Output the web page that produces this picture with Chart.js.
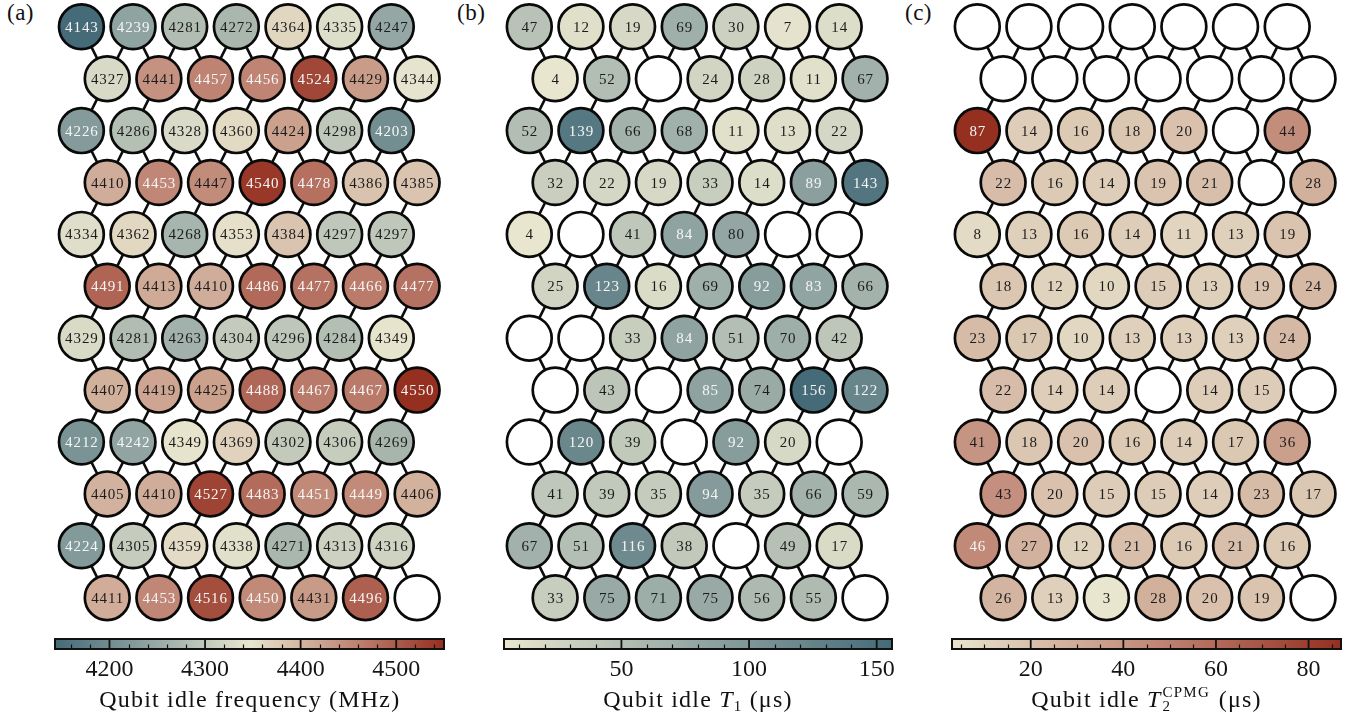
<!DOCTYPE html>
<html>
<head>
<meta charset="utf-8">
<script src="https://cdn.jsdelivr.net/npm/chart.js@4.4.0/dist/chart.umd.min.js"></script>
<style>
  body { margin: 0; background: #fff; width: 1361px; height: 723px; position: relative; overflow: hidden; }
  canvas { position: absolute; }
  .plabel { position: absolute; top: 1px; font: 23px "Liberation Serif", serif; line-height: 23px; color: #111; letter-spacing: 0.5px; }
  .ttl { position: absolute; top: 687px; transform: translateX(-50%); white-space: nowrap;
         font: 24px "Liberation Serif", serif; line-height: 24px; color: #111; letter-spacing: 1.2px; }
  .ttl sub { font-size: 15px; vertical-align: -4px; line-height: 0; }
  .stack { display: inline-block; position: relative; width: 50px; height: 10px; }
  .stack .sp { position: absolute; left: 1px; top: -12px; font-size: 15px; line-height: 15px; }
  .stack .sb { position: absolute; left: 1px; top: 2px; font-size: 15px; line-height: 15px; }
</style>
</head>
<body>
<div class="plabel" style="left:7px">(a)</div>
<div class="plabel" style="left:457px">(b)</div>
<div class="plabel" style="left:905px">(c)</div>

<canvas id="latA"></canvas><canvas id="latB"></canvas><canvas id="latC"></canvas>
<canvas id="cbA"></canvas><canvas id="cbB"></canvas><canvas id="cbC"></canvas>

<div class="ttl" style="left:249.8px">Qubit idle frequency (MHz)</div>
<div class="ttl" style="left:698px">Qubit idle <i>T</i><sub>1</sub> (μs)</div>
<div class="ttl" style="left:1146.5px">Qubit idle <i>T</i><span class="stack"><span class="sp">CPMG</span><span class="sb">2</span></span> (μs)</div>

<script>
// Datos: 12 filas x 7 columnas, las filas impares desplazadas media columna
const freqMHz = [
  [4143, 4239, 4281, 4272, 4364, 4335, 4247],
  [4327, 4441, 4457, 4456, 4524, 4429, 4344],
  [4226, 4286, 4328, 4360, 4424, 4298, 4203],
  [4410, 4453, 4447, 4540, 4478, 4386, 4385],
  [4334, 4362, 4268, 4353, 4384, 4297, 4297],
  [4491, 4413, 4410, 4486, 4477, 4466, 4477],
  [4329, 4281, 4263, 4304, 4296, 4284, 4349],
  [4407, 4419, 4425, 4488, 4467, 4467, 4550],
  [4212, 4242, 4349, 4369, 4302, 4306, 4269],
  [4405, 4410, 4527, 4483, 4451, 4449, 4406],
  [4224, 4305, 4359, 4338, 4271, 4313, 4316],
  [4411, 4453, 4516, 4450, 4431, 4496, null],
];

const t1Us = [
  [47, 12, 19, 69, 30, 7, 14],
  [4, 52, null, 24, 28, 11, 67],
  [52, 139, 66, 68, 11, 13, 22],
  [32, 22, 19, 33, 14, 89, 143],
  [4, null, 41, 84, 80, null, null],
  [25, 123, 16, 69, 92, 83, 66],
  [null, null, 33, 84, 51, 70, 42],
  [null, 43, null, 85, 74, 156, 122],
  [null, 120, 39, null, 92, 20, null],
  [41, 39, 35, 94, 35, 66, 59],
  [67, 51, 116, 38, null, 49, 17],
  [33, 75, 71, 75, 56, 55, null],
];

const t2CpmgUs = [
  [null, null, null, null, null, null, null],
  [null, null, null, null, null, null, null],
  [87, 14, 16, 18, 20, null, 44],
  [22, 16, 14, 19, 21, null, 28],
  [8, 13, 16, 14, 11, 13, 19],
  [18, 12, 10, 15, 13, 19, 24],
  [23, 17, 10, 13, 13, 13, 24],
  [22, 14, 14, null, 14, 15, null],
  [41, 18, 20, 16, 14, 17, 36],
  [43, 20, 15, 15, 14, 23, 17],
  [46, 27, 12, 21, 16, 21, 16],
  [26, 13, 3, 28, 20, 19, null],
];

// Ticks de las barras de color
const freqMajorTicks = [4200, 4300, 4400, 4500];
const freqMinorTicks = [4160, 4180, 4220, 4240, 4260, 4280, 4320, 4340, 4360, 4380, 4420, 4440, 4460, 4480, 4520, 4540];
const t1MajorTicks = [50, 100, 150];
const t1MinorTicks = [10, 20, 30, 40, 60, 70, 80, 90, 110, 120, 130, 140];
const t2MajorTicks = [20, 40, 60, 80];
const t2MinorTicks = [5, 10, 15, 25, 30, 35, 45, 50, 55, 65, 70, 75, 85];

// Mapa de colores divergente (azul grisáceo - crema - rojo)
const cmapStops = [
  [0.0, [69, 107, 120]],
  [0.25, [147, 166, 163]],
  [0.5, [232, 230, 207]],
  [0.75, [194, 139, 122]],
  [1.0, [149, 47, 32]],
];

function cmap(t) {
  t = Math.max(0, Math.min(1, t));
  for (let i = 1; i < cmapStops.length; i++) {
    const [t0, c0] = cmapStops[i - 1];
    const [t1, c1] = cmapStops[i];
    if (t <= t1) {
      const f = (t - t0) / (t1 - t0);
      const c = c0.map((v, k) => Math.round(v + (c1[k] - v) * f));
      return `rgb(${c[0]}, ${c[1]}, ${c[2]})`;
    }
  }
  return "rgb(149, 47, 32)";
}

const SERIF = '"Liberation Serif", "Times New Roman", serif';
const ROW_PITCH = 51.9;
const COL_PITCH = 51.65;
const FIRST_ROW_Y = 26.8;
const LATTICE_H = 625;

const panels = [
  { lat: "latA", cb: "cbA", values: freqMHz, side: "full", majors: freqMajorTicks, minors: freqMinorTicks, cbLeft: 55.3, cbRight: 444.3, firstX: 81.7 },
  { lat: "latB", cb: "cbB", values: t1Us, side: "blue", majors: t1MajorTicks, minors: t1MinorTicks, cbLeft: 504, cbRight: 892, firstX: 529.3 },
  { lat: "latC", cb: "cbC", values: t2CpmgUs, side: "red", majors: t2MajorTicks, minors: t2MinorTicks, cbLeft: 952, cbRight: 1341, firstX: 977.3 },
];

// Posición en el mapa de colores completo según el panel
function fullT(side, frac) {
  if (side === "blue") return 0.5 - 0.5 * frac;
  if (side === "red") return 0.5 + 0.5 * frac;
  return frac;
}

function buildLattice(values) {
  const nodes = [];
  for (let r = 0; r < values.length; r++) {
    for (let j = 0; j < values[r].length; j++) {
      nodes.push({ x: j + (r % 2) * 0.5, y: r, v: values[r][j] });
    }
  }
  // Enlaces: filas pares->impares en zigzag, impares->pares un solo enlace
  const edges = [];
  const pos = (r, j) => ({ x: j + (r % 2) * 0.5, y: r });
  for (let r = 0; r < values.length - 1; r++) {
    const n = values[r].length;
    for (let j = 0; j < n; j++) {
      if (r % 2 === 0) {
        edges.push(pos(r, j), pos(r + 1, j), { x: NaN, y: NaN });
        if (j > 0) edges.push(pos(r, j), pos(r + 1, j - 1), { x: NaN, y: NaN });
      } else {
        edges.push(pos(r, j), pos(r + 1, j), { x: NaN, y: NaN });
      }
    }
  }
  return { nodes, edges };
}

const valueLabels = {
  id: "valueLabels",
  afterDatasetsDraw(chart, args, opts) {
    const ctx = chart.ctx;
    const meta = chart.getDatasetMeta(1);
    const data = chart.data.datasets[1].data;
    ctx.save();
    ctx.font = `15px ${SERIF}`;
    ctx.letterSpacing = "0.9px";
    ctx.textAlign = "center";
    ctx.textBaseline = "alphabetic";
    meta.data.forEach((pt, i) => {
      const d = data[i];
      if (d.v === null) return;
      ctx.fillStyle = Math.abs(d.t - 0.5) > 0.25 ? "#f5f5f5" : "#1c1c1c";
      ctx.fillText(String(d.v), pt.x + 0.5, pt.y + 5);
    });
    ctx.restore();
  },
};

const colorbarTicks = {
  id: "colorbarTicks",
  afterDatasetsDraw(chart, args, opts) {
    const { ctx, chartArea } = chart;
    const sx = chart.scales.x;
    ctx.save();
    ctx.strokeStyle = "#111";
    opts.minors.forEach((v) => {
      const px = Math.round(sx.getPixelForValue(v)) + 0.5;
      ctx.lineWidth = 1.2;
      ctx.beginPath();
      ctx.moveTo(px, chartArea.bottom);
      ctx.lineTo(px, chartArea.bottom - 4.5);
      ctx.stroke();
    });
    opts.majors.forEach((v) => {
      const px = sx.getPixelForValue(v);
      ctx.lineWidth = 1.8;
      ctx.beginPath();
      ctx.moveTo(px, chartArea.top);
      ctx.lineTo(px, chartArea.bottom);
      ctx.stroke();
    });
    ctx.lineWidth = 2;
    ctx.strokeRect(chartArea.left, chartArea.top, chartArea.right - chartArea.left, chartArea.bottom - chartArea.top);
    ctx.restore();
  },
};

function initPanel(p) {
  const flat = p.values.flat().filter((v) => v !== null);
  const vmin = Math.min(...flat);
  const vmax = Math.max(...flat);
  const { nodes, edges } = buildLattice(p.values);
  nodes.forEach((n) => {
    n.t = n.v === null ? null : fullT(p.side, (n.v - vmin) / (vmax - vmin));
  });

  // Retícula de qubits
  const w = p.cbRight - p.cbLeft;
  const lat = document.getElementById(p.lat);
  lat.width = Math.round(w);
  lat.height = LATTICE_H;
  lat.style.left = p.cbLeft + "px";
  lat.style.top = "0px";
  new Chart(lat.getContext("2d"), {
    type: "scatter",
    data: {
      datasets: [
        {
          type: "line",
          data: edges,
          borderColor: "#0d0d0d",
          borderWidth: 2.6,
          pointRadius: 0,
          spanGaps: false,
          tension: 0,
          order: 2,
          clip: false,
        },
        {
          data: nodes,
          pointRadius: 22.4,
          pointHoverRadius: 22.4,
          pointBorderWidth: 2.7,
          pointBorderColor: "#0a0a0a",
          pointBackgroundColor: nodes.map((n) => (n.v === null ? "#ffffff" : cmap(n.t))),
          order: 1,
          clip: false,
        },
      ],
    },
    options: {
      responsive: false,
      animation: false,
      events: [],
      layout: { padding: 0, autoPadding: false },
      scales: {
        x: {
          type: "linear",
          display: false,
          min: -(p.firstX - p.cbLeft) / COL_PITCH,
          max: (p.cbRight - p.firstX) / COL_PITCH,
        },
        y: {
          type: "linear",
          display: false,
          reverse: true,
          min: -FIRST_ROW_Y / ROW_PITCH,
          max: (LATTICE_H - FIRST_ROW_Y) / ROW_PITCH,
        },
      },
      plugins: { legend: { display: false }, tooltip: { enabled: false } },
    },
    plugins: [valueLabels],
  });

  // Barra de color
  const cb = document.getElementById(p.cb);
  const pad = 30;
  cb.width = Math.round(w + 2 * pad);
  cb.height = 93;
  cb.style.left = p.cbLeft - pad + "px";
  cb.style.top = "630px";
  const allTicks = [...p.majors, ...p.minors].sort((a, b) => a - b);
  new Chart(cb.getContext("2d"), {
    type: "bar",
    data: {
      labels: [""],
      datasets: [
        {
          data: [[vmin, vmax]],
          barPercentage: 1,
          categoryPercentage: 1,
          borderWidth: 0,
          backgroundColor: (context) => {
            const area = context.chart.chartArea;
            if (!area) return "#ccc";
            const g = context.chart.ctx.createLinearGradient(area.left, 0, area.right, 0);
            for (let i = 0; i <= 40; i++) {
              g.addColorStop(i / 40, cmap(fullT(p.side, i / 40)));
            }
            return g;
          },
        },
      ],
    },
    options: {
      responsive: false,
      animation: false,
      events: [],
      indexAxis: "y",
      layout: { padding: { top: 9, left: pad, right: pad, bottom: 0 } },
      scales: {
        x: {
          type: "linear",
          min: vmin,
          max: vmax,
          afterBuildTicks: (scale) => {
            scale.ticks = allTicks.map((v) => ({ value: v }));
          },
          afterFit: (scale) => {
            scale.height = 74;
          },
          grid: { display: false, drawTicks: false },
          border: { display: false },
          ticks: {
            autoSkip: false,
            maxRotation: 0,
            padding: 6,
            color: "#151515",
            font: { family: SERIF, size: 24 },
            callback: (v) => (p.majors.includes(v) ? String(v) : ""),
          },
        },
        y: { display: false },
      },
      plugins: {
        legend: { display: false },
        tooltip: { enabled: false },
        colorbarTicks: { majors: p.majors, minors: p.minors },
      },
    },
    plugins: [colorbarTicks],
  });
}

panels.forEach(initPanel);
</script>
</body>
</html>
